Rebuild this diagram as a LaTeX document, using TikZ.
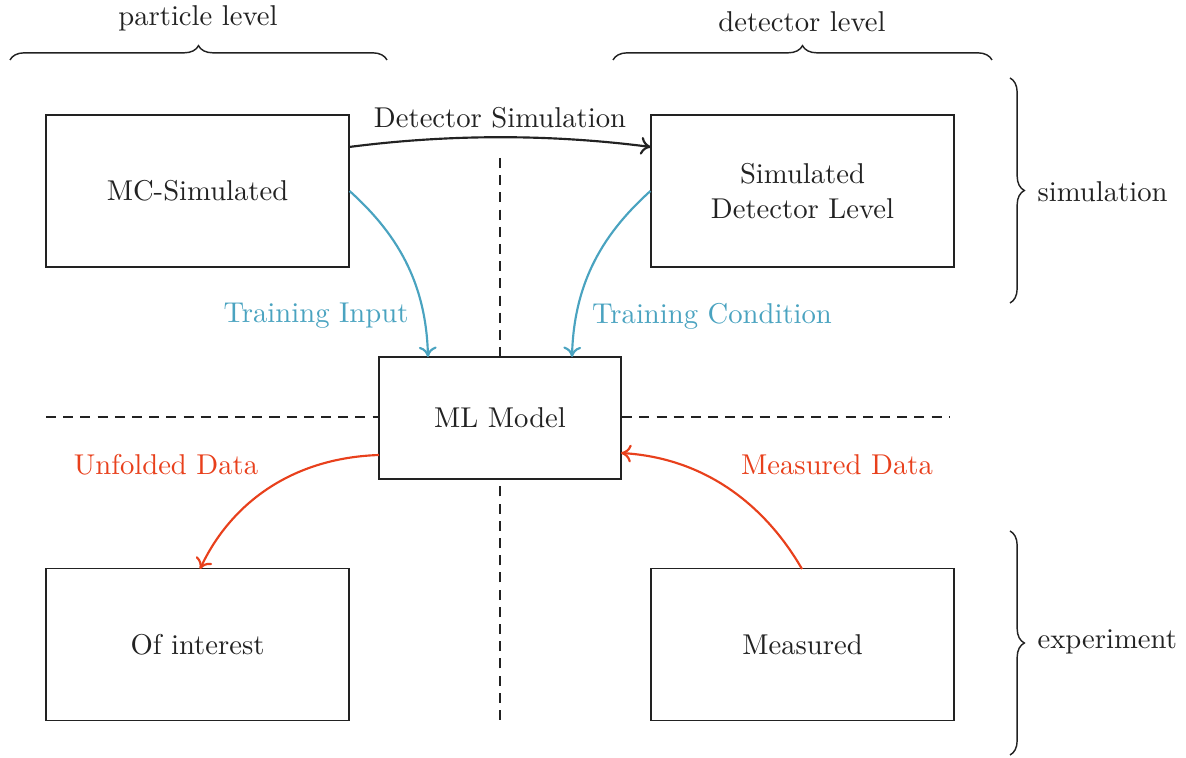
\documentclass[tikz,border=0pt]{standalone}
\usetikzlibrary{decorations.pathreplacing,calc,arrows.meta}
\definecolor{trainblue}{RGB}{74,163,192}
\definecolor{datared}{RGB}{232,64,28}
\definecolor{ink}{RGB}{34,34,34}
\begin{document}
\begin{tikzpicture}[x=0.349pt,y=-0.349pt,
  every node/.style={text=ink},
  levelbox/.style={draw=ink,line width=0.4pt,minimum width=303*0.349pt,minimum height=152*0.349pt,align=center,inner sep=0pt},
  modelbox/.style={draw=ink,line width=0.8pt,minimum width=242*0.349pt,minimum height=122*0.349pt,inner sep=0pt},
  divider/.style={draw=ink,semithick,dash pattern=on 3.5pt off 2.5pt},
  flow/.style={line width=0.75pt,-{Computer Modern Rightarrow[length=3.6pt,width=6.2pt]}},
  bracket/.style={draw=ink,line width=0.5pt,decorate,decoration={brace,amplitude=5pt}}]
\useasboundingbox (0,0) rectangle (1186,758);

% the five boxes
\node[levelbox] (mc)  at (197.5,191) {MC-Simulated};
\node[levelbox] (sim) at (802.5,191) {Simulated\\Detector Level};
\node[modelbox] (ml)  at (500,418) {ML Model};
\node[levelbox] (oi)  at (197.5,644.5) {Of interest};
\node[levelbox] (ms)  at (802.5,644.5) {Measured};

% dashed quadrant dividers
\coordinate (vtop) at (500,158);
\coordinate (vbot) at (500,720);
\coordinate (hl) at (46,417);
\coordinate (hr) at (950,417);
\draw[divider] (vtop) -- (ml.north);
\draw[divider] (vbot) -- (ml.south);
\draw[divider] (hl) -- (ml.west |- hl);
\draw[divider] (ml.east |- hr) -- (hr);

% detector simulation step
\coordinate (ds1) at (349,147);
\coordinate (ds2) at (651,147);
\draw[flow,ink] (ds1) .. controls (450,134) and (550,134) .. (ds2);
\node (dslabel) at (500,118) {Detector Simulation};

% training inputs
\coordinate (tin) at (428,357);
\coordinate (tcond) at (572,357);
\draw[flow,trainblue] (mc.east) .. controls (395,232) and (426,280) .. (tin);
\draw[flow,trainblue] (sim.east -| sim.west) .. controls (605,232) and (574,280) .. (tcond);
\node[text=trainblue] (tilabel) at (316,316) {Training Input};
\node[text=trainblue] (tclabel) at (712,316) {Training Condition};

% data flows
\coordinate (uout) at (379,455);
\coordinate (uin) at (200,569);
\coordinate (mout) at (802,569);
\coordinate (min) at (621,453);
\draw[flow,datared] (uout) .. controls (290,458) and (230,505) .. (uin);
\draw[flow,datared] (mout) .. controls (765,505) and (705,458) .. (min);
\node[text=datared] (udlabel) at (166,465) {Unfolded Data};
\node[text=datared] (mdlabel) at (837,465) {Measured Data};

% level and domain braces
\coordinate (b1a) at (10,60);   \coordinate (b1b) at (387,60);
\coordinate (b2a) at (613,60);  \coordinate (b2b) at (992,60);
\coordinate (b3a) at (1010,78); \coordinate (b3b) at (1010,303);
\coordinate (b4a) at (1010,531); \coordinate (b4b) at (1010,755);
\draw[bracket] (b1a) -- (b1b);
\draw[bracket] (b2a) -- (b2b);
\draw[bracket] (b3a) -- (b3b);
\draw[bracket] (b4a) -- (b4b);
\node (pl) at (198,18) {particle level};
\node (dl) at (802,22) {detector level};
\node[anchor=west,inner sep=0pt] (sl) at (1037,192) {simulation};
\node[anchor=west,inner sep=0pt] (el) at (1037,642) {experiment};
\end{tikzpicture}
\end{document}
